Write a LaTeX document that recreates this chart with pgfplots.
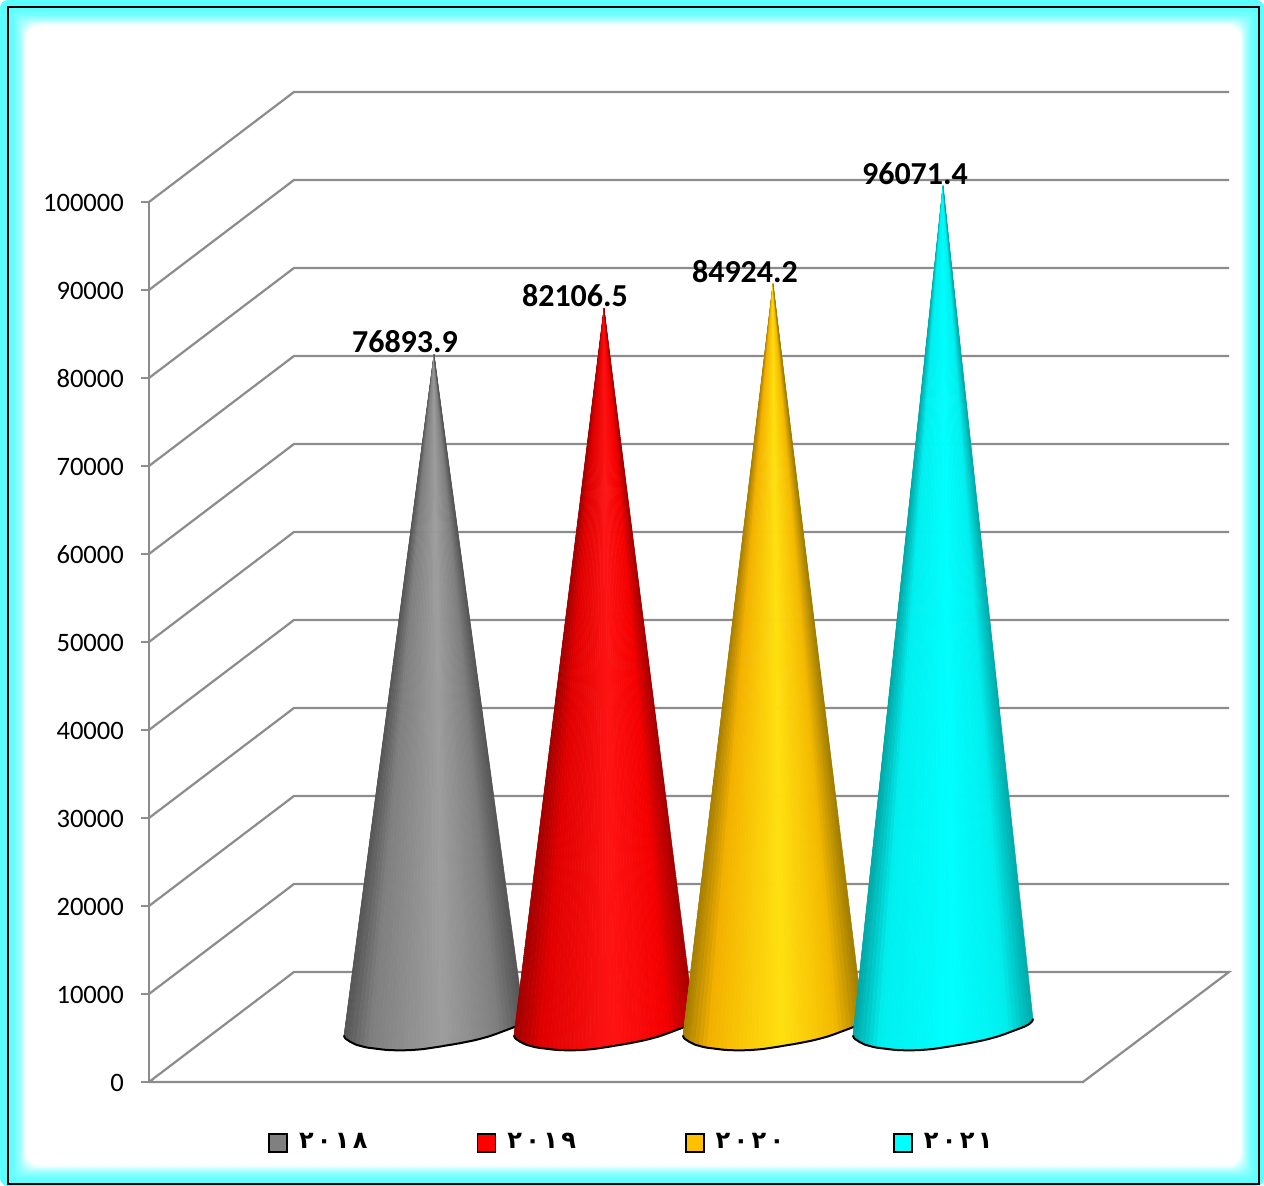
\documentclass[border=0pt]{standalone}
\usepackage{fontspec}
\usepackage{pgfplots}
\pgfplotsset{compat=1.18}
\setmainfont{Carlito}
\newfontfamily\arabicfont[Script=Arabic, LetterSpace=14]{DejaVu Sans}
\definecolor{gridgray}{HTML}{8C8C8C}
\definecolor{glow}{HTML}{5CFFFF}

% offsets of the rim of a cone base, from its left end, along the visible lower arc
\def\rim{0/0,1/2,2/3,4/4.3,6/5.7,8/6.7,12/8.7,16/9.8,20/10.9,24/11.7,28/12.2,32/12.7,36/13.2,40/13.7,44/14,48/14.2,52/14.3,56/14.3,60/14.3,64/14.2,68/14,72/13.7,76/13.4,80/13,84/12.4,88/11.8,92/11.2,96/10.6,100/9.9,104/9.2,108/8.6,112/7.9,116/7.2,120/6.4,124/5.6,128/4.8,132/3.9,136/2.9,140/1.8,144/0.7,148/-0.6,152/-2,156/-3.5,160/-5,164/-6.5,168/-8,172/-9.6,175/-11.2,177/-12.6,179/-14.5,180/-16.7}
\def\stops{{0,0.15,0.55,0.85,1}}

% sum of two large numbers, beyond the range of plain pgfmath
\newcommand{\largesum}[2]{%
  \begingroup
  \pgfkeys{/pgf/fpu=true,/pgf/fpu/output format=fixed}%
  \pgfmathparse{#1+#2}%
  \xdef\sumresult{\pgfmathresult}%
  \endgroup
}

% #1 left end of the base, #2 value, #3 #4 #5 red, green, blue at the five shading stops
\newcommand{\drawcone}[5]{%
  \pgfmathsetmacro\tipx{#1+90}%
  \largesum{#2}{5739}%
  \let\tipy\sumresult
  \pgfmathsetmacro\arcstart{#1}%
  \xdef\arc{(\arcstart,5227)}%
  \foreach \dx/\dy [remember=\dx as \pdx (initially 0), remember=\dy as \pdy (initially 0)] in \rim {%
    \pgfmathsetmacro\xa{#1+\pdx}%
    \pgfmathsetmacro\xb{#1+\dx}%
    \pgfmathsetmacro\ya{5227-(\pdy)*113.636}%
    \pgfmathsetmacro\yb{5227-(\dy)*113.636}%
    \pgfmathsetmacro\u{(\dx+\pdx)/360}%
    \pgfmathtruncatemacro\seg{\u<0.15?0:(\u<0.55?1:(\u<0.85?2:3))}%
    \pgfmathtruncatemacro\nxt{\seg+1}%
    \pgfmathsetmacro\lo{\stops[\seg]}%
    \pgfmathsetmacro\hi{\stops[\nxt]}%
    \pgfmathsetmacro\t{(\u-\lo)/(\hi-\lo)}%
    \def\ra{{#3}}\def\ga{{#4}}\def\ba{{#5}}%
    \pgfmathtruncatemacro\cr{\ra[\seg]*(1-\t)+\ra[\nxt]*\t}%
    \pgfmathtruncatemacro\cg{\ga[\seg]*(1-\t)+\ga[\nxt]*\t}%
    \pgfmathtruncatemacro\cb{\ba[\seg]*(1-\t)+\ba[\nxt]*\t}%
    \edef\temp{\noexpand\addplot[forget plot, line width=0.25pt, line join=round,
      draw={rgb,255:red,\cr;green,\cg;blue,\cb}, fill={rgb,255:red,\cr;green,\cg;blue,\cb}]
      coordinates {(\tipx,\tipy)(\xa,\ya)(\xb,\yb)} -- cycle;}%
    \temp
    \xdef\arc{\arc (\xb,\yb)}%
  }%
  \edef\temp{\noexpand\addplot[forget plot, black, smooth, line width=1pt, line cap=round] coordinates {\arc};}%
  \temp
}

\begin{document}
\begin{tikzpicture}
  % panel: cyan band, black border and a soft glow on its inside
  \begin{scope}[x=0.5pt, y=-0.5pt, shift={(-74.5pt,541pt)}]
    \fill[white] (0,0) rectangle (1264,1186);
    \fill[glow, rounded corners=4] (0,0) rectangle (1264,1186);
    \foreach \i in {0,...,18} {
      \pgfmathtruncatemacro\pct{100-(\i/18)*(\i/18)*100}
      \fill[glow!\pct!white, rounded corners=\i*0.4] (8+\i,7+\i) rectangle (1259-\i,1184-\i);
    }
    \draw[black, line width=0.8pt] (8,7) rectangle (1259,1184);
  \end{scope}
  \begin{axis}[
    scale only axis, width=540pt, height=440pt,
    xmin=149, xmax=1229, ymin=0, ymax=100000,
    clip=false,
    axis x line=none,
    axis y line*=left,
    axis line style={gridgray, line width=1.1pt, -},
    ytick={0,10000,20000,30000,40000,50000,60000,70000,80000,90000,100000},
    scaled y ticks=false,
    tick align=outside,
    major tick length=4pt,
    y tick style={gridgray, line width=1.1pt},
    /pgf/number format/fixed,
    /pgf/number format/precision=0,
    /pgf/number format/1000 sep={},
    /pgf/number format/assume math mode=true,
    yticklabel style={font=\fontsize{13.3}{15}\selectfont, text=black, xshift=-5pt, yshift=-0.5pt},
    legend columns=4,
    legend style={draw=none, fill=none, at={(axis cs:262,-6900)}, anchor=west,
      font=\arabicfont\bfseries\fontsize{12}{15}\selectfont,
      /tikz/every even column/.append style={column sep=52.5pt},
      /tikz/every odd column/.append style={column sep=3.5pt}},
    legend image code/.code={\draw[#1, draw=black, line width=0.8pt] (0pt,-4.5pt) rectangle (9pt,4.5pt);},
  ]
    % floor and walls
    \addplot[forget plot, gridgray, line width=1.1pt] coordinates {(149,0)(294,12500)(1229,12500)(1083,0)(149,0)};
    \foreach \v/\w in {10000/22500,20000/32500,30000/42500,40000/52500,50000/62500,60000/72500,70000/82500,80000/92500,90000/102500,100000/112500} {
      \edef\temp{\noexpand\addplot[forget plot, gridgray, line width=1.1pt] coordinates {(149,\v)(294,\w)(1229,\w)};}
      \temp
    }
    % cones
    \drawcone{344}{76893.9}{85,128,158,128,85}{85,128,158,128,85}{85,128,158,128,85}
    \drawcone{514}{82106.5}{160,225,255,245,165}{0,0,20,0,0}{0,0,20,0,0}
    \drawcone{683}{84924.2}{165,245,255,245,160}{125,178,225,185,125}{0,0,16,0,0}
    \drawcone{853}{96071.4}{0,0,0,0,0}{165,240,255,240,170}{165,240,255,240,170}
    % value labels above the cone tips
    \addplot[forget plot, draw=none, nodes near coords, point meta=explicit symbolic,
      every node near coord/.style={anchor=base, yshift=1pt, text=black,
        font=\bfseries\fontsize{16}{18}\selectfont}]
      table[x=x, y expr=\thisrow{value}+5739, meta=value] {
      x    value
      405  76893.9
      575  82106.5
      745  84924.2
      915  96071.4
    };
    \addlegendimage{fill={rgb,255:red,128;green,128;blue,128}}
    \addlegendentry{٢٠١٨}
    \addlegendimage{fill={rgb,255:red,255;green,0;blue,0}}
    \addlegendentry{٢٠١٩}
    \addlegendimage{fill={rgb,255:red,255;green,192;blue,0}}
    \addlegendentry{٢٠٢٠}
    \addlegendimage{fill={rgb,255:red,0;green,255;blue,255}}
    \addlegendentry{٢٠٢١}
  \end{axis}
\end{tikzpicture}
\end{document}
